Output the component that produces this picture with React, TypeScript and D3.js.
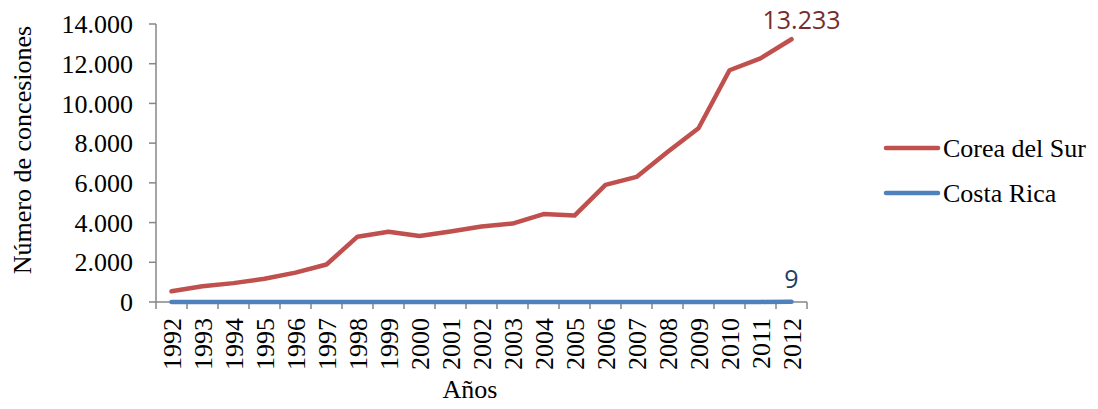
import { useMemo } from "react";
import * as d3 from "d3";

const years = [
  "1992", "1993", "1994", "1995", "1996", "1997", "1998", "1999", "2000", "2001", "2002",
  "2003", "2004", "2005", "2006", "2007", "2008", "2009", "2010", "2011", "2012",
];
const coreaDelSur = [
  540, 790, 950, 1170, 1480, 1890, 3290, 3540, 3320, 3550, 3800,
  3950, 4430, 4350, 5900, 6300, 7550, 8750, 11670, 12270, 13233,
];
const costaRica = [1, 0, 1, 0, 0, 1, 0, 2, 1, 0, 1, 2, 1, 3, 1, 2, 2, 5, 4, 6, 9];
const yTicks = [0, 2000, 4000, 6000, 8000, 10000, 12000, 14000];

const series = [
  { name: "Corea del Sur", values: coreaDelSur, color: "#c0504d", labelColor: "#772c2a" },
  { name: "Costa Rica", values: costaRica, color: "#4f81bd", labelColor: "#1f3f66" },
];

const W = 1098;
const H = 409;
const serif = "'Liberation Serif', 'Times New Roman', serif";
const sans = "'Open Sans', 'Noto Sans', sans-serif";
const axisColor = "#868686";

const fmt = (v: number) => d3.format(",")(v).replace(/,/g, ".");

export default function App() {
  const x = useMemo(() => d3.scaleBand().domain(years).range([156, 807]), []);
  const y = useMemo(() => d3.scaleLinear().domain([0, 14000]).range([302, 24]), []);
  const cx = (yr: string) => (x(yr) ?? 0) + x.bandwidth() / 2;

  const line = d3
    .line<number>()
    .x((_, i) => cx(years[i]))
    .y((d) => y(d));

  const last = years[years.length - 1];

  return (
    <div style={{ position: "fixed", left: 0, top: 0 }}>
      <svg width={W} height={H} style={{ display: "block", background: "#fff" }}>
        {/* y axis */}
        <line x1={156} x2={156} y1={y(14000)} y2={y(0)} stroke={axisColor} strokeWidth={1.5} />
        {yTicks.map((t) => (
          <g key={t}>
            <line x1={149} x2={156} y1={y(t)} y2={y(t)} stroke={axisColor} strokeWidth={1.5} />
            <text
              x={133}
              y={y(t)}
              dy="0.35em"
              textAnchor="end"
              fontFamily={serif}
              fontSize={26}
              fill="#000"
            >
              {fmt(t)}
            </text>
          </g>
        ))}
        <text
          transform={`translate(31, 150) rotate(-90)`}
          textAnchor="middle"
          fontFamily={serif}
          fontSize={26}
        >
          Número de concesiones
        </text>

        {/* x axis */}
        <line x1={156} x2={807} y1={y(0)} y2={y(0)} stroke={axisColor} strokeWidth={1.5} />
        {years.map((yr) => (
          <line
            key={"t" + yr}
            x1={x(yr) ?? 0}
            x2={x(yr) ?? 0}
            y1={y(0)}
            y2={y(0) + 7}
            stroke={axisColor}
            strokeWidth={1.5}
          />
        ))}
        <line x1={807} x2={807} y1={y(0)} y2={y(0) + 7} stroke={axisColor} strokeWidth={1.5} />
        {years.map((yr) => (
          <text
            key={"l" + yr}
            transform={`translate(${cx(yr)}, 318) rotate(-90)`}
            dy="0.35em"
            textAnchor="end"
            fontFamily={serif}
            fontSize={26}
          >
            {yr}
          </text>
        ))}
        <text x={470} y={398} textAnchor="middle" fontFamily={serif} fontSize={26}>
          Años
        </text>

        {/* lines */}
        {series.map((s) => (
          <path
            key={s.name}
            d={line(s.values) ?? ""}
            fill="none"
            stroke={s.color}
            strokeWidth={4.5}
            strokeLinecap="round"
            strokeLinejoin="round"
          />
        ))}

        {/* data labels */}
        <text
          x={cx(last) + 10}
          y={29}
          textAnchor="middle"
          fontFamily={sans}
          fontSize={25}
          fill={series[0].labelColor}
        >
          {fmt(coreaDelSur[coreaDelSur.length - 1])}
        </text>
        <text
          x={cx(last)}
          y={288}
          textAnchor="middle"
          fontFamily={sans}
          fontSize={25}
          fill={series[1].labelColor}
        >
          {fmt(costaRica[costaRica.length - 1])}
        </text>

        {/* legend */}
        {series.map((s, i) => (
          <g key={"lg" + s.name} transform={`translate(0, ${148 + i * 45})`}>
            <line x1={886} x2={938} y1={0} y2={0} stroke={s.color} strokeWidth={4.5} strokeLinecap="round" />
            <text x={943} y={0} dy="0.33em" fontFamily={serif} fontSize={26}>
              {s.name}
            </text>
          </g>
        ))}
      </svg>
    </div>
  );
}
